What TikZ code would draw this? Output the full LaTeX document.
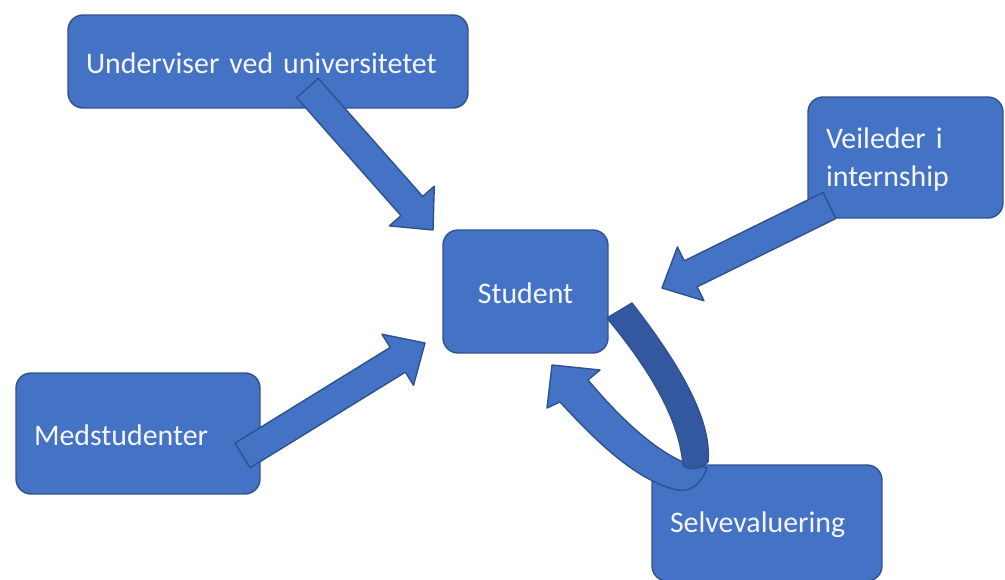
\documentclass[tikz,border=0pt]{standalone}
\usepackage{fontspec}
\setmainfont{Carlito}
\usetikzlibrary{calc}

\definecolor{boxblue}{RGB}{68,114,196}
\definecolor{boxline}{RGB}{47,82,143}
\definecolor{bandblue}{RGB}{52,88,160}
\definecolor{labelwhite}{RGB}{244,246,252}

\tikzset{
    role/.style={draw=boxline, line width=0.8pt, fill=boxblue, rounded corners=0.3cm,
        text=labelwhite, font=\fontsize{17}{21.5}\selectfont, align=left,
        inner xsep=0.36cm, inner ysep=0pt, execute at begin node={\rule{0pt}{14pt}}},
    feedback/.style={draw=boxline, line width=0.8pt, fill=boxblue, line join=round},
}

% block arrow from #1 (tail) to #2 (tip)
\newcommand{\feedbackarrow}[2]{%
    \coordinate (head) at ($(#2)!0.64cm!(#1)$);
    \draw[feedback] ($(#1)!0.29cm!90:(#2)$) -- ($(head)!0.29cm!90:(#2)$)
        -- ($(head)!0.6cm!90:(#2)$) -- (#2) -- ($(head)!0.6cm!-90:(#2)$)
        -- ($(head)!0.29cm!-90:(#2)$) -- ($(#1)!0.29cm!-90:(#2)$) -- cycle;
}

\begin{document}
\begin{tikzpicture}[x=0.02cm, y=-0.02cm]
        \useasboundingbox (0,0) rectangle (1005,580);

        \node[role, text width=7.28cm, minimum height=1.86cm] (under) at (268,61.5)
            {Underviser ved universitetet};
        \node[role, text width=3.18cm, minimum height=2.42cm] (veil) at (905.5,157.5)
            {Veileder i\\internship};
        \node[role, text width=2.58cm, minimum height=2.46cm, align=center] (student) at (525.5,291.5)
            {Student};
        \node[role, text width=4.16cm, minimum height=2.42cm] (med) at (138,433.5)
            {Medstudenter};
        \node[role, text width=3.88cm, minimum height=2.32cm] (selv) at (767,523)
            {Selvevaluering};

        \coordinate (under-tail) at (307.5,88);
        \coordinate (under-tip) at (433,230);
        \coordinate (veil-tail) at (829.5,205.5);
        \coordinate (veil-tip) at (662,288);
        \coordinate (med-tail) at (242.5,455.5);
        \coordinate (med-tip) at (425,343);

        \feedbackarrow{under-tail}{under-tip}
        \feedbackarrow{veil-tail}{veil-tip}
        \feedbackarrow{med-tail}{med-tip}

        % self evaluation loop
        \draw[feedback] (552,365) -- (600,370) -- (588,380)
            .. controls (620,418) and (652,448) .. (683,462)
            -- (707,468) .. controls (700,486) and (690,492) .. (677,490)
            .. controls (635,480) and (595,440) .. (560,402)
            -- (547,408) -- cycle;
        \draw[feedback, fill=bandblue] (607,318) -- (632,303)
            .. controls (680,365) and (712,420) .. (708,462)
            .. controls (700,470) and (690,470) .. (683,466)
            .. controls (680,420) and (650,370) .. (607,318) -- cycle;
\end{tikzpicture}
\end{document}
